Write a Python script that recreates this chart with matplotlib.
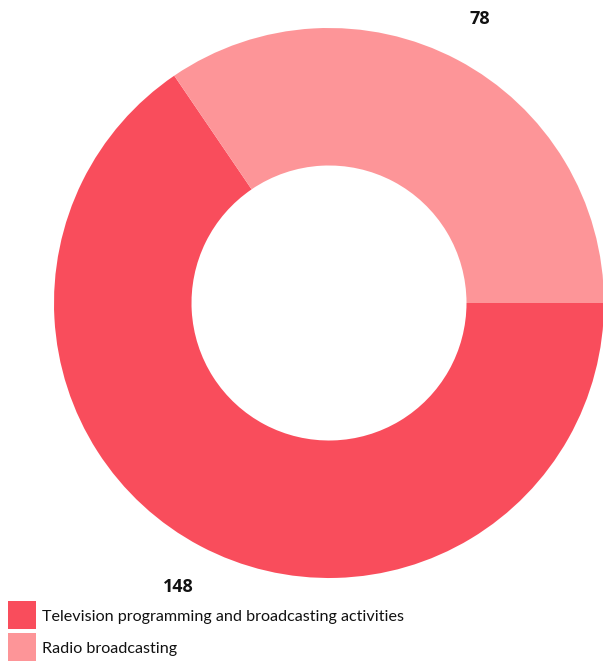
import numpy as np
import matplotlib.pyplot as plt
from matplotlib.patches import Rectangle

plt.rcParams['font.family'] = ['Lato', 'DejaVu Sans']

categories = ['Television programming and broadcasting activities', 'Radio broadcasting']
values = [148, 78]
colors = ['#F94D5C', '#FD9598']

W, H = 603, 662
fig = plt.figure(figsize=(W / 100, H / 100), dpi=100)
ax = fig.add_axes([54 / W, 84 / H, 550 / W, 550 / H])

wedges, _ = ax.pie(values, colors=colors, startangle=0, counterclock=False,
                   radius=1, wedgeprops=dict(width=0.5, edgecolor='none'))
ax.set_xlim(-1, 1)
ax.set_ylim(-1, 1)
ax.set_aspect('equal')
ax.axis('off')

# value labels outside the ring, at each wedge's middle angle
for w, v in zip(wedges, values):
    mid = np.deg2rad((w.theta1 + w.theta2) / 2)
    ax.text(1.17 * np.cos(mid), 1.17 * np.sin(mid), str(v), ha='center', va='center',
            fontsize=13, fontweight='bold', family=['Open Sans', 'DejaVu Sans'],
            color='#111111', clip_on=False)

# legend: square swatch + label, one row per category
for i, (name, c) in enumerate(zip(categories, colors)):
    top = 601 + 32 * i
    fig.add_artist(Rectangle((8 / W, 1 - (top + 28) / H), 28 / W, 28 / H,
                             transform=fig.transFigure, facecolor=c, edgecolor='none'))
    fig.text(42 / W, 1 - (top + 16) / H, name, ha='left', va='center',
             fontsize=11.6, color='#111111')

fig.savefig('out.png', dpi=100)
